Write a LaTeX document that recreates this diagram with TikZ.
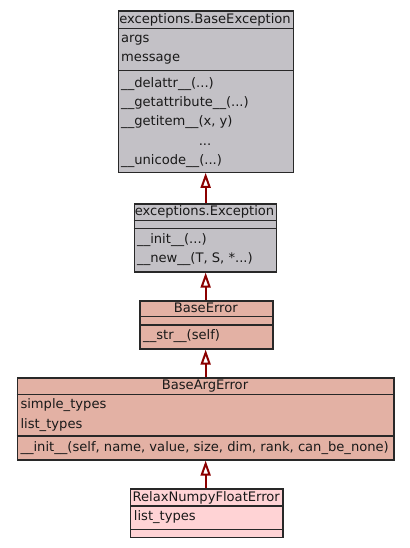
\documentclass[tikz,border=0pt]{standalone}
\usepackage{fontspec}
\setmainfont{DejaVu Sans}
\usetikzlibrary{arrows.meta}
\definecolor{graybox}{RGB}{195,193,198}
\definecolor{salmonbox}{RGB}{227,177,164}
\definecolor{pinkbox}{RGB}{255,211,213}
\definecolor{edgered}{RGB}{139,0,0}
\definecolor{borderc}{RGB}{40,40,40}
\tikzset{
  classbox/.style={draw=borderc, line width=1.3pt, rectangle, inner sep=0pt, anchor=north west},
  sepline/.style={draw=borderc, line width=1.3pt},
  lbl/.style={anchor=base west, inner sep=0pt, font=\fontsize{13.1}{15}\selectfont, text=black!90},
  ttl/.style={anchor=base, inner sep=0pt, font=\fontsize{13.1}{15}\selectfont, text=black!90},
  inh/.style={draw=edgered, line width=2.2pt, -{Triangle[open, width=10pt, length=15pt, line width=2pt]}},
}
\begin{document}
\begin{tikzpicture}[x=1pt,y=-1pt]
\useasboundingbox (0,0) rectangle (409,548);
% BaseException
\node[classbox, fill=graybox, minimum width=175pt, minimum height=161pt] (be) at (117.5,10.5) {};
\draw[sepline] (117.5,28.3) -- (292.5,28.3);
\draw[sepline] (117.5,70.5) -- (292.5,70.5);
\node[ttl] (bet) at (205,23.3) {exceptions.BaseException};
\node[lbl] (bea1) at (121,42.3) {args};
\node[lbl] (bea2) at (121,61.7) {message};
\node[lbl] (bem1) at (121,87.5) {\_\_delattr\_\_(...)};
\node[lbl] (bem2) at (121,106.8) {\_\_getattribute\_\_(...)};
\node[lbl] (bem3) at (121,126) {\_\_getitem\_\_(x, y)};
\node[ttl] (bem4) at (205,145.3) {...};
\node[lbl] (bem5) at (121,164.5) {\_\_unicode\_\_(...)};
% Exception
\node[classbox, fill=graybox, minimum width=142pt, minimum height=68pt] (ex) at (133.5,203.3) {};
\draw[sepline] (133.5,220.7) -- (275.5,220.7);
\draw[sepline] (133.5,228.3) -- (275.5,228.3);
\node[ttl] (ext) at (204.5,215.7) {exceptions.Exception};
\node[lbl] (exm1) at (137,243.3) {\_\_init\_\_(...)};
\node[lbl] (exm2) at (137,262.3) {\_\_new\_\_(T, S, *...)};
% BaseError
\node[classbox, fill=salmonbox, minimum width=133pt, minimum height=48pt] (ber) at (139.3,300.3) {};
\draw[sepline] (139.3,316.7) -- (272.3,316.7);
\draw[sepline] (139.3,325) -- (272.3,325);
\node[ttl] (bert) at (205.8,312.3) {BaseError};
\node[lbl] (berm1) at (143,339.3) {\_\_str\_\_(self)};
% BaseArgError
\node[classbox, fill=salmonbox, minimum width=376.6pt, minimum height=82pt] (bae) at (16.7,377.3) {};
\draw[sepline] (16.7,394.3) -- (393.3,394.3);
\draw[sepline] (16.7,436) -- (393.3,436);
\node[ttl] (baet) at (205,389) {BaseArgError};
\node[lbl] (baea1) at (20.3,408.3) {simple\_types};
\node[lbl] (baea2) at (20.3,428.3) {list\_types};
\node[lbl] (baem1) at (20.3,451.7) {\_\_init\_\_(self, name, value, size, dim, rank, can\_be\_none)};
% RelaxNumpyFloatError
\node[classbox, fill=pinkbox, minimum width=152.3pt, minimum height=48.4pt] (rn) at (130,488.3) {};
\draw[sepline] (130,506) -- (282.3,506);
\draw[sepline] (130,529.3) -- (282.3,529.3);
\node[ttl] (rnt) at (206.2,501) {RelaxNumpyFloatError};
\node[lbl] (rna1) at (133.7,520.7) {list\_types};
% inheritance
\draw[inh] (ex.north -| be.south) -- (be.south);
\draw[inh] (ber.north -| be.south) -- (ex.south -| be.south);
\draw[inh] (bae.north -| be.south) -- (ber.south -| be.south);
\draw[inh] (rn.north -| be.south) -- (bae.south -| be.south);
\end{tikzpicture}
\end{document}
